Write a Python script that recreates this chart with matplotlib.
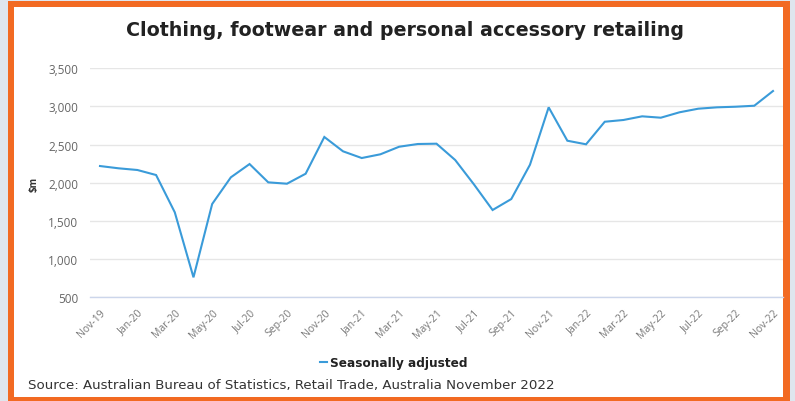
import numpy as np
import matplotlib.pyplot as plt
from matplotlib.patches import Rectangle
from matplotlib.lines import Line2D

# Monthly sales, $m (seasonally adjusted), Nov-19 .. Nov-22
months = ['Nov-19', 'Dec-19', 'Jan-20', 'Feb-20', 'Mar-20', 'Apr-20', 'May-20',
          'Jun-20', 'Jul-20', 'Aug-20', 'Sep-20', 'Oct-20', 'Nov-20', 'Dec-20',
          'Jan-21', 'Feb-21', 'Mar-21', 'Apr-21', 'May-21', 'Jun-21', 'Jul-21',
          'Aug-21', 'Sep-21', 'Oct-21', 'Nov-21', 'Dec-21', 'Jan-22', 'Feb-22',
          'Mar-22', 'Apr-22', 'May-22', 'Jun-22', 'Jul-22', 'Aug-22', 'Sep-22',
          'Oct-22', 'Nov-22']
sales = [2218, 2188, 2166, 2100, 1611, 758, 1720,
         2070, 2244, 2004, 1986, 2117, 2599, 2411,
         2323, 2372, 2471, 2507, 2511, 2297, 1978,
         1641, 1785, 2235, 2988, 2550, 2503, 2799,
         2822, 2870, 2852, 2923, 2970, 2988, 2996,
         3009, 3202]
y_ticks = [500, 1000, 1500, 2000, 2500, 3000, 3500]

W, H = 795, 402
fig = plt.figure(figsize=(W / 100, H / 100), dpi=100)
fig.patch.set_facecolor('#dfe6ee')

# orange frame with white inside (behind the axes)
fig.patches.append(Rectangle((8 / W, 0), 782 / W, 1 - 2 / H, transform=fig.transFigure,
                             facecolor='#f26a22', edgecolor='none', zorder=-2))
fig.patches.append(Rectangle((14 / W, 4 / H), 769 / W, 1 - 12 / H, transform=fig.transFigure,
                             facecolor='white', edgecolor='none', zorder=-1))

ax = fig.add_axes([90 / W, 1 - 298 / H, 693 / W, (298 - 69.3) / H])
ax.set_facecolor('none')
ax.set_zorder(1)

x = np.arange(len(months))
ax.plot(x, sales, color='#3a9bd9', lw=1.5, solid_joinstyle='miter', zorder=3)

ax.set_xlim(-0.535, len(months) - 1 + 0.535)
ax.set_ylim(500, 3500)
ax.set_yticks(y_ticks)
ax.set_yticklabels([f'{v:,}' for v in y_ticks], fontsize=8.5, color='#666666',
                   family='Open Sans')
ax.set_xticks(x[::2])
ax.set_xticklabels(months[::2], rotation=45, ha='right', rotation_mode='anchor',
                   fontsize=7.5, color='#777777', family='Open Sans')
ax.tick_params(axis='both', length=0)
ax.tick_params(axis='y', pad=8.5)
ax.tick_params(axis='x', pad=7)

ax.grid(axis='y', color='#e6e6e6', lw=1)
for s in ['top', 'right', 'left']:
    ax.spines[s].set_visible(False)
ax.spines['bottom'].set_color('#ccd6eb')
ax.spines['bottom'].set_linewidth(1)

fig.text(34 / W, 1 - 184 / H, '$m', rotation=90, ha='center', va='center',
         fontsize=7, fontweight='bold', color='#333333', family='Open Sans')

fig.text(405 / W, 1 - 31 / H, 'Clothing, footwear and personal accessory retailing',
         ha='center', va='center', fontsize=13.7, fontweight='bold', color='#222222',
         family='DejaVu Sans')

# legend
fig.add_artist(Line2D([320 / W, 327 / W], [1 - 363 / H, 1 - 363 / H],
                      transform=fig.transFigure, color='#3a9bd9', lw=1.5))
fig.text(330 / W, 1 - 363 / H, 'Seasonally adjusted', ha='left', va='center',
         fontsize=8.7, fontweight='bold', color='#222222', family='DejaVu Sans')

fig.text(28 / W, 1 - 386 / H,
         'Source: Australian Bureau of Statistics, Retail Trade, Australia November 2022',
         ha='left', va='center', fontsize=9.6, color='#333333', family='DejaVu Sans')

fig.savefig('out.png', dpi=100, facecolor=fig.get_facecolor())
